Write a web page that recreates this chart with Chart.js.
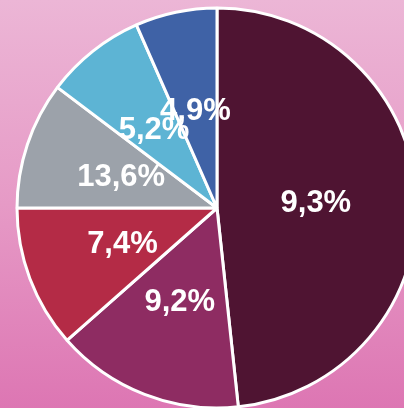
<!DOCTYPE html>
<html>
<head>
<meta charset="utf-8">
<script src="https://cdn.jsdelivr.net/npm/chart.js@4/dist/chart.umd.min.js"></script>
<style>
  html, body {
    margin: 0;
    padding: 0;
    width: 404px;
    height: 408px;
    overflow: hidden;
    background: linear-gradient(to bottom, #ecb6d6 0%, #e69ac6 50%, #dd76b3 100%);
  }
  #wrap { position: absolute; left: 0; top: 0; width: 434px; height: 416px; }
</style>
</head>
<body>
<div id="wrap"><canvas id="pie" width="434" height="416"></canvas></div>
<script>
// Segment names, share of the whole (%), and the rate printed on each segment
const segments = ["Segment 1", "Segment 2", "Segment 3", "Segment 4", "Segment 5", "Segment 6"];
const shares = [48.3, 15.2, 11.5, 10.3, 8.1, 6.6];
const rates = [9.3, 9.2, 7.4, 13.6, 5.2, 4.9];
const colors = ["#4f1432", "#8e2c62", "#b42b46", "#9ca2aa", "#5db4d4", "#3f62a6"];

const fmtRate = v => v.toFixed(1).replace(".", ",") + "%";

// Writes the rate at the middle of each slice
const sliceLabels = {
  id: "sliceLabels",
  afterDatasetsDraw(chart) {
    const ctx = chart.ctx;
    const meta = chart.getDatasetMeta(0);
    ctx.save();
    ctx.fillStyle = "#ffffff";
    ctx.font = "bold 31px 'Liberation Sans', Arial, sans-serif";
    ctx.textAlign = "center";
    ctx.textBaseline = "middle";
    meta.data.forEach((arc, i) => {
      const p = arc.tooltipPosition();
      ctx.fillText(fmtRate(rates[i]), p.x - 1, p.y + 1);
    });
    ctx.restore();
  }
};

new Chart(document.getElementById("pie"), {
  type: "pie",
  data: {
    labels: segments,
    datasets: [{
      data: shares,
      backgroundColor: colors,
      borderColor: "#ffffff",
      borderWidth: 3
    }]
  },
  options: {
    responsive: false,
    animation: false,
    radius: 200,
    layout: { padding: 0 },
    plugins: {
      legend: { display: false },
      tooltip: { enabled: false }
    }
  },
  plugins: [sliceLabels]
});
</script>
</body>
</html>
